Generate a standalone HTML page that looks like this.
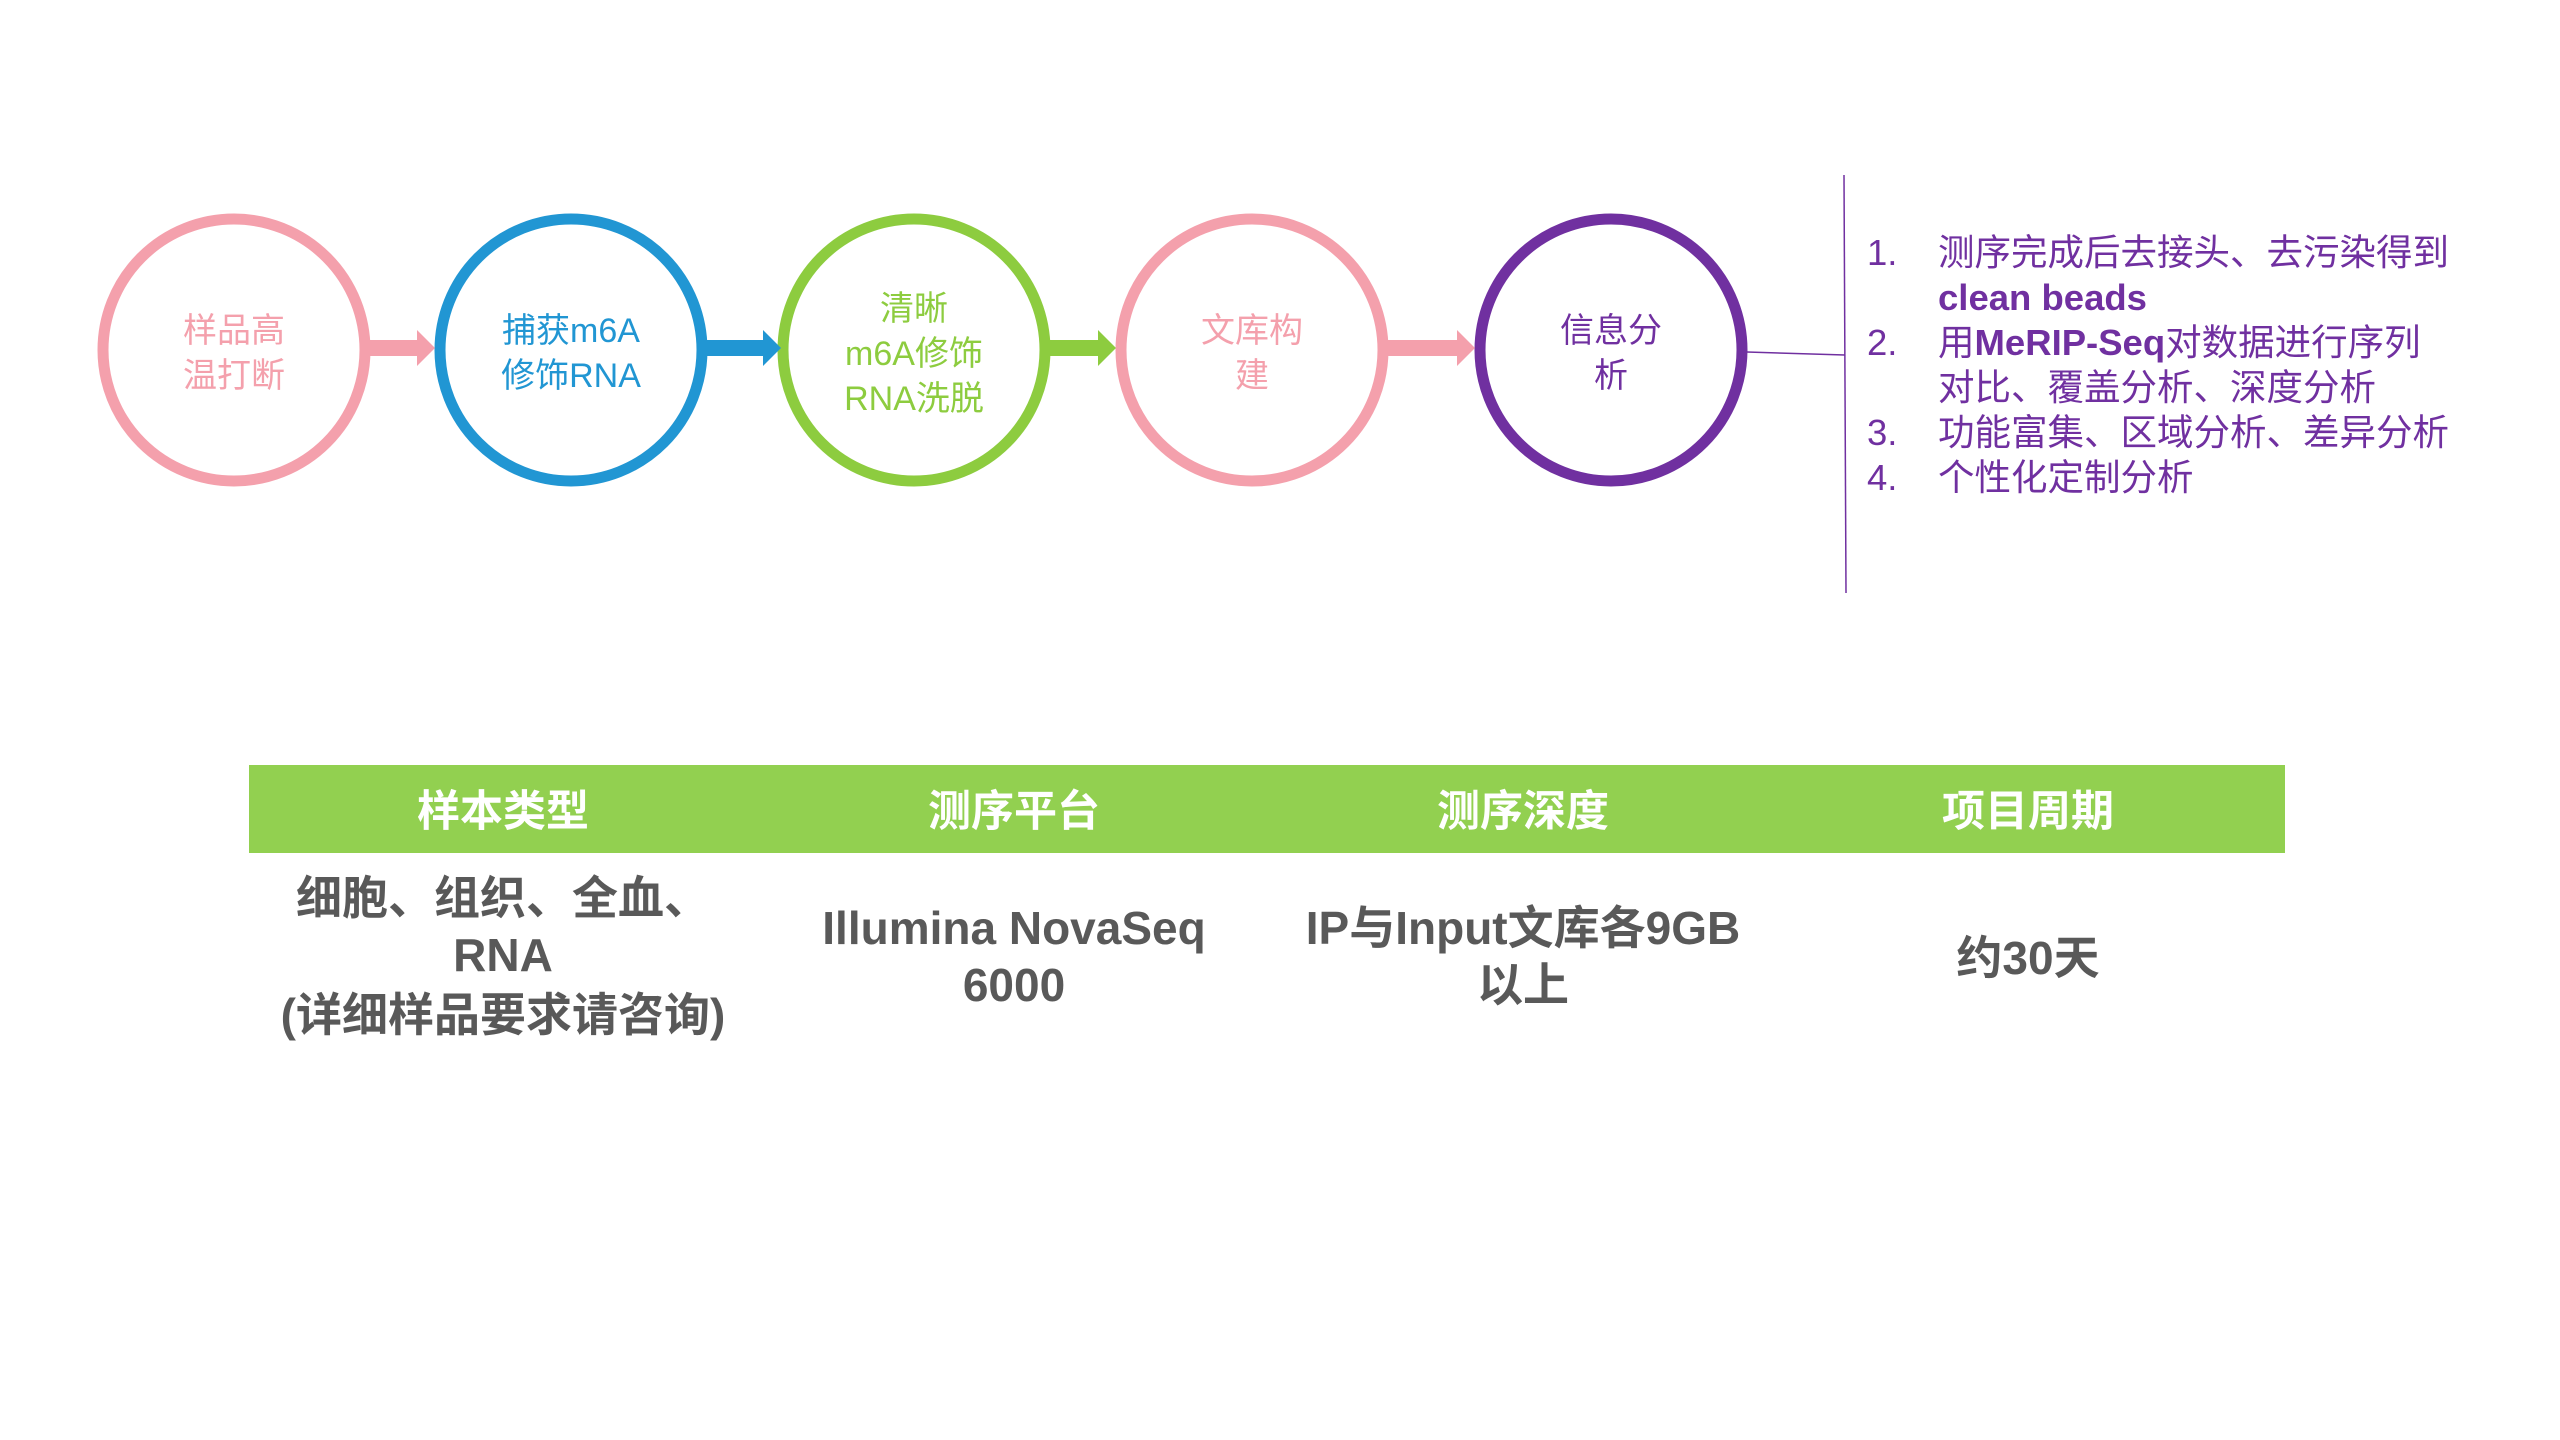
<!DOCTYPE html>
<html><head><meta charset="utf-8"><style>
body{margin:0;background:#fff;}
svg{display:block;}
text{font-family:"Liberation Sans","Noto Sans CJK SC",sans-serif;}
</style></head><body>
<svg width="2560" height="1440" viewBox="0 0 2560 1440" xmlns="http://www.w3.org/2000/svg">
<rect width="2560" height="1440" fill="#fff"/>
<g fill="none" stroke-width="11">
<circle cx="234" cy="350" r="131" stroke="#F4A0AC"/>
<circle cx="571" cy="350" r="131" stroke="#2196D3"/>
<circle cx="914" cy="350" r="131" stroke="#8DCC3F"/>
<circle cx="1252" cy="350" r="131" stroke="#F4A0AC"/>
<circle cx="1611" cy="350" r="131" stroke="#7030A0"/>
</g>
<polygon points="370,340 417,340 417,330 435,348 417,366 417,356 370,356" fill="#F4A0AC"/>
<polygon points="707,340 763,340 763,330 781,348 763,366 763,356 707,356" fill="#2196D3"/>
<polygon points="1050,340 1098,340 1098,330 1116,348 1098,366 1098,356 1050,356" fill="#8DCC3F"/>
<polygon points="1388,340 1457,340 1457,330 1475,348 1457,366 1457,356 1388,356" fill="#F4A0AC"/>
<line x1="1747" y1="352" x2="1845" y2="355" stroke="#7030A0" stroke-width="1.5"/>
<line x1="1844" y1="175" x2="1846" y2="593" stroke="#7030A0" stroke-width="1.5"/>
<g font-size="34" text-anchor="middle">
<text x="234" y="342" fill="#F4A0AC">样品高</text>
<text x="234" y="387" fill="#F4A0AC">温打断</text>
<text x="571" y="342" fill="#2196D3">捕获m6A</text>
<text x="571" y="387" fill="#2196D3">修饰RNA</text>
<text x="914" y="320" fill="#8DCC3F">清晰</text>
<text x="914" y="365" fill="#8DCC3F">m6A修饰</text>
<text x="914" y="410" fill="#8DCC3F">RNA洗脱</text>
<text x="1252" y="342" fill="#F4A0AC">文库构</text>
<text x="1252" y="387" fill="#F4A0AC">建</text>
<text x="1611" y="342" fill="#7030A0">信息分</text>
<text x="1611" y="387" fill="#7030A0">析</text>
</g>
<g font-size="36.5" fill="#7030A0">
<text x="1867" y="265">1.</text>
<text x="1938" y="265">测序完成后去接头、去污染得到</text>
<text x="1938" y="310" font-weight="bold">clean beads</text>
<text x="1867" y="355">2.</text>
<text x="1938" y="355">用<tspan font-weight="bold">MeRIP-Seq</tspan>对数据进行序列</text>
<text x="1938" y="400">对比、覆盖分析、深度分析</text>
<text x="1867" y="445">3.</text>
<text x="1938" y="445">功能富集、区域分析、差异分析</text>
<text x="1867" y="490">4.</text>
<text x="1938" y="490">个性化定制分析</text>
</g>
<rect x="249" y="765" width="2036" height="88" fill="#92D050"/>
<g font-size="43" font-weight="bold" fill="#fff" text-anchor="middle">
<text x="503" y="826">样本类型</text>
<text x="1014" y="826">测序平台</text>
<text x="1523" y="826">测序深度</text>
<text x="2028" y="826">项目周期</text>
</g>
<g font-size="46" font-weight="bold" fill="#595959" text-anchor="middle">
<text x="503" y="914">细胞、组织、全血、</text>
<text x="503" y="971">RNA</text>
<text x="503" y="1031">(详细样品要求请咨询)</text>
<text x="1014" y="944">Illumina NovaSeq</text>
<text x="1014" y="1001">6000</text>
<text x="1523" y="944">IP与Input文库各9GB</text>
<text x="1523" y="1001">以上</text>
<text x="2028" y="974">约30天</text>
</g>
</svg>
</body></html>
